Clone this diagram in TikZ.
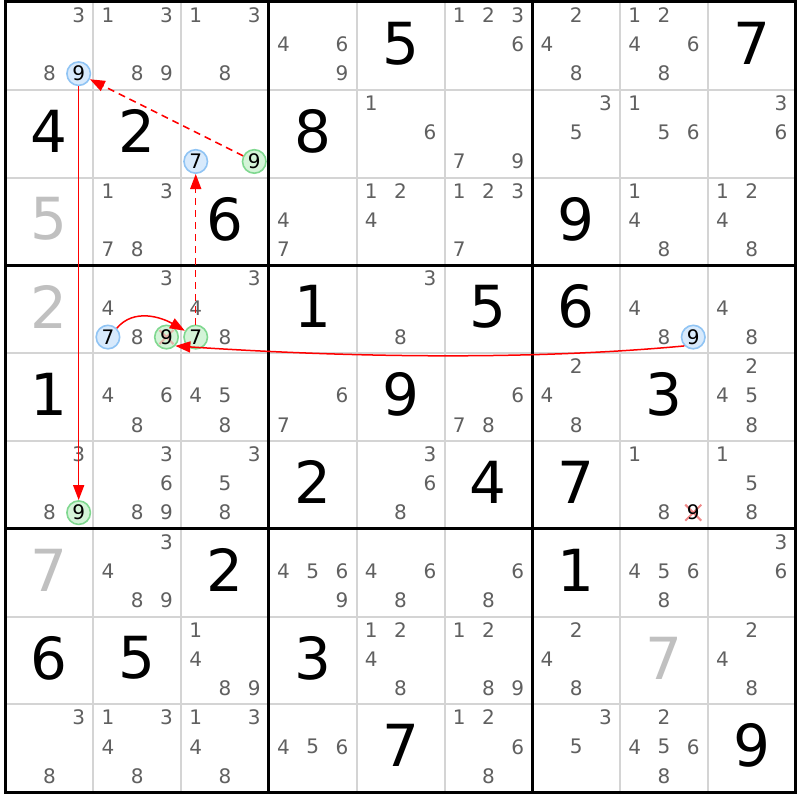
\documentclass[tikz,border=0pt]{standalone}
\usepackage{fontspec}
\setmainfont{DejaVu Sans}
\usetikzlibrary{arrows.meta,calc}
\definecolor{candgray}{HTML}{606060}
\definecolor{givengray}{HTML}{C0C0C0}
\definecolor{gridthin}{HTML}{D4D4D4}
\definecolor{bluefill}{HTML}{D8EAFC}
\definecolor{bluedraw}{HTML}{90C4F4}
\definecolor{greenfill}{HTML}{D4F4D8}
\definecolor{greendraw}{HTML}{80D890}
\definecolor{xred}{HTML}{F08888}
\tikzset{
  cand/.style={font=\fontsize{20}{20}\selectfont, text=candgray, inner sep=0pt},
  given/.style={font=\fontsize{58}{58}\selectfont, text=black, inner sep=0pt},
  ghost/.style={given, text=givengray},
  bluec/.style={circle, draw=bluedraw, fill=bluefill, line width=1.6pt, minimum size=23.5pt, inner sep=0pt, font=\fontsize{20}{20}\selectfont, text=black},
  greenc/.style={bluec, draw=greendraw, fill=greenfill},
  circdigit/.style={inner sep=0pt, font=\fontsize{20}{20}\selectfont, text=black},
  gridline/.style={draw=gridthin, line width=2pt},
  boxline/.style={draw=black, line width=3pt},
  xmark/.style={draw=xred, line width=2pt},
  link/.style={draw=red, line width=1.5pt, -{Triangle[length=15pt,width=11pt]}},
  weaklink/.style={link, dash pattern=on 7pt off 5pt},
}
\newcommand\candcoord[4]{\coordinate (#1) at ({5.5+87.8*(#3-1)+29.267*(mod(#4-1,3)+0.5)},{799.5-87.8*(#2-1)-29.267*(floor((#4-1)/3)+0.5)});}
\newcommand\putcands[3]{\foreach \d in {#3}{\candcoord{p#1#2-\d}{#1}{#2}{\d}\node[cand] (n#1#2-\d) at (p#1#2-\d) {\d};}}
\newcommand\putgiven[4][given]{\node[#1] (g#2#3) at ({5.5+87.8*(#3-0.5)},{800.5-87.8*(#2-0.5)}) {#4};}
\begin{document}
\begin{tikzpicture}[x=1pt,y=1pt]
\useasboundingbox (0,0) rectangle (800,800);
\fill[white] (0,0) rectangle (800,800);
% thin grid
\foreach \i in {1,2,4,5,7,8}{
  \draw[gridline] ({5.5+87.8*\i},798) -- ({5.5+87.8*\i},7.8);
  \draw[gridline] (5.5,{798-87.8*\i}) -- (795.7,{798-87.8*\i});
}
\foreach \i in {3,6}{
  \draw[boxline] ({5.5+87.8*\i},798) -- ({5.5+87.8*\i},7.8);
  \draw[boxline] (5.5,{798-87.8*\i}) -- (795.7,{798-87.8*\i});
}
\draw[boxline] (5.5,7.8) rectangle (795.7,798);
% row 1
\putcands{1}{1}{3,8}
\putcands{1}{2}{1,3,8,9}
\putcands{1}{3}{1,3,8}
\putcands{1}{4}{4,6,9}
\putgiven{1}{5}{5}
\putcands{1}{6}{1,2,3,6}
\putcands{1}{7}{2,4,8}
\putcands{1}{8}{1,2,4,6,8}
\putgiven{1}{9}{7}
% row 2
\putgiven{2}{1}{4}
\putgiven{2}{2}{2}
\putgiven{2}{4}{8}
\putcands{2}{5}{1,6}
\putcands{2}{6}{7,9}
\putcands{2}{7}{3,5}
\putcands{2}{8}{1,5,6}
\putcands{2}{9}{3,6}
% row 3
\putgiven[ghost]{3}{1}{5}
\putcands{3}{2}{1,3,7,8}
\putgiven{3}{3}{6}
\putcands{3}{4}{4,7}
\putcands{3}{5}{1,2,4}
\putcands{3}{6}{1,2,3,7}
\putgiven{3}{7}{9}
\putcands{3}{8}{1,4,8}
\putcands{3}{9}{1,2,4,8}
% row 4
\putgiven[ghost]{4}{1}{2}
\putcands{4}{2}{3,4,8}
\putcands{4}{3}{3,4,8}
\putgiven{4}{4}{1}
\putcands{4}{5}{3,8}
\putgiven{4}{6}{5}
\putgiven{4}{7}{6}
\putcands{4}{8}{4,8}
\putcands{4}{9}{4,8}
% row 5
\putgiven{5}{1}{1}
\putcands{5}{2}{4,6,8}
\putcands{5}{3}{4,5,8}
\putcands{5}{4}{6,7}
\putgiven{5}{5}{9}
\putcands{5}{6}{6,7,8}
\putcands{5}{7}{2,4,8}
\putgiven{5}{8}{3}
\putcands{5}{9}{2,4,5,8}
% row 6
\putcands{6}{1}{3,8}
\putcands{6}{2}{3,6,8,9}
\putcands{6}{3}{3,5,8}
\putgiven{6}{4}{2}
\putcands{6}{5}{3,6,8}
\putgiven{6}{6}{4}
\putgiven{6}{7}{7}
\putcands{6}{8}{1,8}
\putcands{6}{9}{1,5,8}
% row 7
\putgiven[ghost]{7}{1}{7}
\putcands{7}{2}{3,4,8,9}
\putgiven{7}{3}{2}
\putcands{7}{4}{4,5,6,9}
\putcands{7}{5}{4,6,8}
\putcands{7}{6}{6,8}
\putgiven{7}{7}{1}
\putcands{7}{8}{4,5,6,8}
\putcands{7}{9}{3,6}
% row 8
\putgiven{8}{1}{6}
\putgiven{8}{2}{5}
\putcands{8}{3}{1,4,8,9}
\putgiven{8}{4}{3}
\putcands{8}{5}{1,2,4,8}
\putcands{8}{6}{1,2,8,9}
\putcands{8}{7}{2,4,8}
\putgiven[ghost]{8}{8}{7}
\putcands{8}{9}{2,4,8}
% row 9
\putcands{9}{1}{3,8}
\putcands{9}{2}{1,3,4,8}
\putcands{9}{3}{1,3,4,8}
\putcands{9}{4}{4,5,6}
\putgiven{9}{5}{7}
\putcands{9}{6}{1,2,6,8}
\putcands{9}{7}{3,5}
\putcands{9}{8}{2,4,5,6,8}
\putgiven{9}{9}{9}
% highlighted candidates
\candcoord{pA}{1}{1}{9}
\candcoord{pB}{2}{3}{7}
\candcoord{pC}{2}{3}{9}
\candcoord{pD}{4}{2}{7}
\candcoord{pE}{4}{2}{9}
\candcoord{pF}{4}{3}{7}
\candcoord{pG}{4}{8}{9}
\candcoord{pH}{6}{1}{9}
\candcoord{pI}{6}{8}{9}
\node[bluec] (A) at (pA) {9};
\node[bluec] (B) at (pB) {7};
\node[greenc] (C) at (pC) {9};
\node[bluec] (D) at (pD) {7};
\node[greenc] (E) at (pE) {};
\draw[xmark, draw opacity=0.6] ($(E)+(-7,-7)$) -- ($(E)+(7,7)$) ($(E)+(-7,7)$) -- ($(E)+(7,-7)$);
\node[circdigit] (Et) at (E) {9};
\node[greenc] (F) at (pF) {7};
\node[bluec] (G) at (pG) {9};
\node[greenc] (H) at (pH) {9};
\draw[xmark] ($(pI)+(-8,-8)$) -- ($(pI)+(8,8)$) ($(pI)+(-8,8)$) -- ($(pI)+(8,-8)$);
\node[circdigit] (I) at (pI) {9};
% links
\draw[weaklink] (C) -- (A);
\draw[weaklink] (F) -- (B);
\draw[link] (A) -- (H);
\draw[link] (D.45) to[out=50,in=150] (F.150);
\draw[link] (G.225) .. controls +(-150,-14) and +(180,-12) .. (E.-45);
\end{tikzpicture}
\end{document}
